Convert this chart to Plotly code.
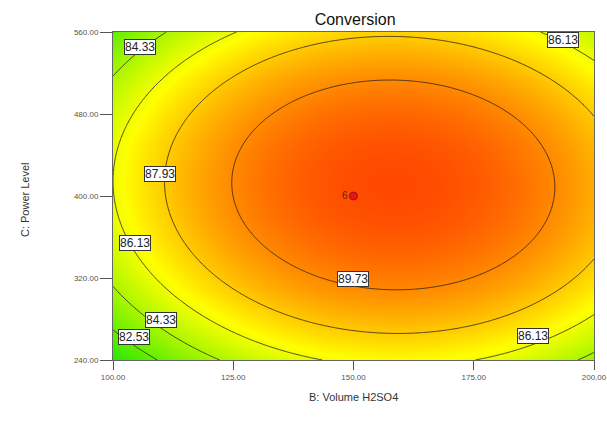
import numpy as np
import plotly.graph_objects as go

# Fitted response-surface model (coded factors)
# X = (B - 150) / 50 ; Y = (C - 400) / 160
intercept = 91.39
coef_B = 1.326
coef_C = 0.62
coef_BC = -0.17
coef_B2 = -3.97
coef_C2 = -4.38

contour_levels = [82.53, 84.33, 86.13, 87.93, 89.73]
x_ticks = [100, 125, 150, 175, 200]
y_ticks = [240, 320, 400, 480, 560]

# contour label annotations: (text, B, C)
label_texts = ["84.33", "86.13", "87.93", "86.13", "89.73", "84.33", "82.53", "86.13"]
label_B = [105.6, 193.6, 109.8, 104.6, 149.9, 110.0, 104.4, 187.3]
label_C = [545.7, 552.0, 421.5, 354.0, 319.0, 279.0, 262.0, 263.4]

design_B = [150.0]
design_C = [400.0]
design_txt = ["6"]

bx = np.linspace(100, 200, 241)
cy = np.linspace(240, 560, 241)
BB, CC = np.meshgrid(bx, cy)
X = (BB - 150) / 50
Y = (CC - 400) / 160
Z = (intercept + coef_B * X + coef_C * Y + coef_BC * X * Y
     + coef_B2 * X ** 2 + coef_C2 * Y ** 2)

zlo, zmid, zhi = 80.5, 86.5, 93.5
fig = go.Figure()
fig.add_trace(go.Contour(
    x=bx, y=cy, z=Z,
    zmin=zlo, zmax=zhi, zauto=False,
    colorscale=[[0, "rgb(20,230,0)"], [(zmid - zlo) / (zhi - zlo), "rgb(255,255,0)"],
                [1, "rgb(255,0,0)"]],
    showscale=False,
    contours=dict(coloring="heatmap", start=contour_levels[0],
                  end=contour_levels[-1], size=1.8, showlabels=False),
    line=dict(color="rgb(40,30,20)", width=0.8),
    hoverinfo="skip",
))
fig.add_trace(go.Scatter(
    x=design_B, y=design_C, mode="markers+text", text=design_txt,
    textposition="middle left",
    textfont=dict(family="Liberation Sans, Arial", size=10, color="rgb(110,30,20)"),
    marker=dict(symbol="circle", size=8, color="rgb(235,20,20)",
                line=dict(color="rgb(150,20,20)", width=1)),
    showlegend=False, hoverinfo="skip",
))

for t, bxv, cyv in zip(label_texts, label_B, label_C):
    fig.add_annotation(x=bxv, y=cyv, text=t, showarrow=False,
                       font=dict(family="Liberation Sans, Arial", size=12, color="#222"),
                       bgcolor="white", bordercolor="#333", borderwidth=1, borderpad=0)

fig.add_annotation(xref="paper", yref="paper", x=0.5, y=-0.137, text="B: Volume H2SO4",
                   showarrow=False, font=dict(family="Liberation Sans, Arial", size=11, color="#333"))
fig.add_annotation(xref="paper", yref="paper", x=-0.198, y=0.49, text="C: Power Level",
                   textangle=-90, showarrow=False,
                   font=dict(family="Liberation Sans, Arial", size=11, color="#333"))

axis_common = dict(showgrid=False, zeroline=False, ticks="outside", automargin=False,
                   tickcolor="#555", linecolor="#666", linewidth=1, mirror=True,
                   tickfont=dict(family="Liberation Sans, Arial", size=8, color="#555"),
                   tickformat=".2f")
fig.update_xaxes(range=[100, 200], tickvals=x_ticks, ticklen=9, **axis_common)
fig.update_yaxes(range=[240, 560], tickvals=y_ticks, ticklen=12, **axis_common)

fig.update_layout(
    width=607, height=428,
    margin=dict(l=113, r=13, t=32, b=68, autoexpand=False),
    paper_bgcolor="white", plot_bgcolor="white",
    title=dict(text="Conversion", x=0.585, xanchor="center", y=0.955, yanchor="middle",
               yref="container",
               font=dict(family="Liberation Sans, Arial", size=16, color="#111")),
    showlegend=False,
)

fig.write_html("out.html")
